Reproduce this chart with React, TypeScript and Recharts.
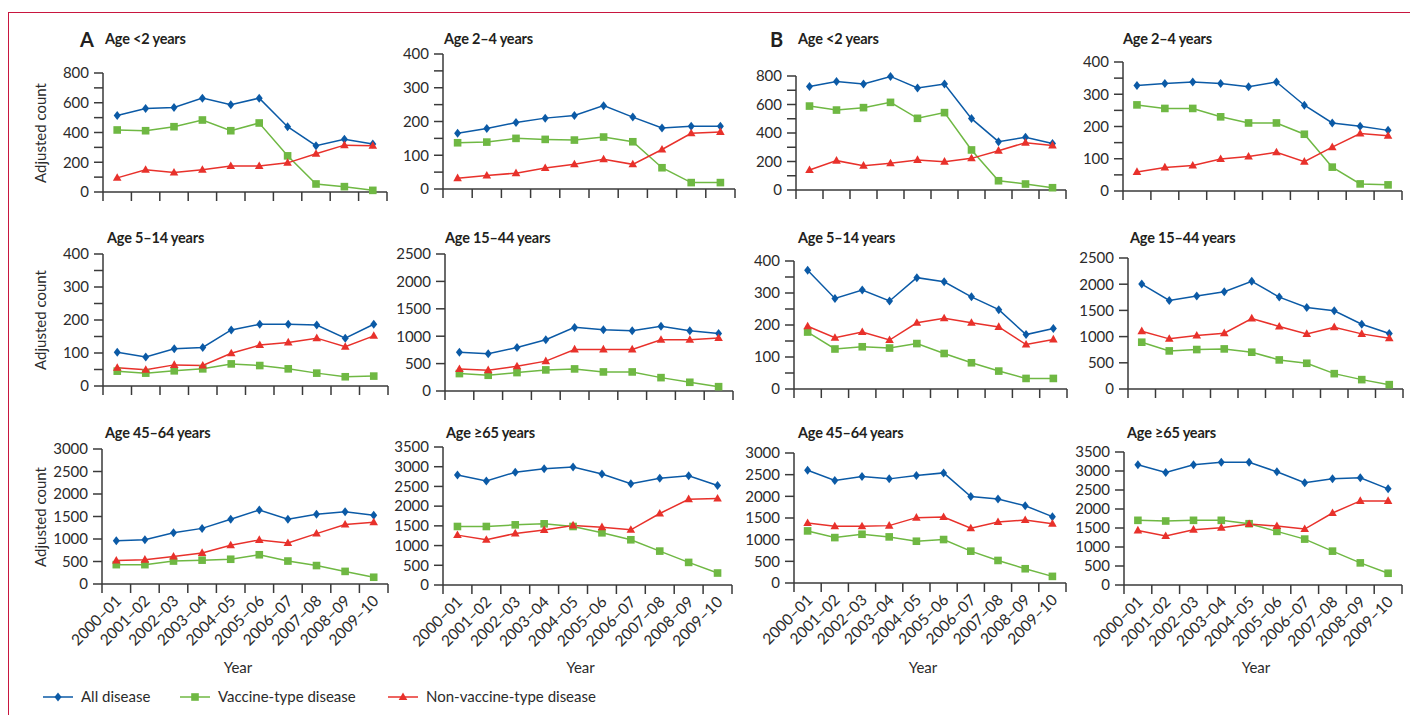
import React from 'react';
import { LineChart, Line, XAxis, YAxis } from 'recharts';

// ── Adjusted counts by season, age group; A and B panels

const YEARS = ['2000–01', '2001–02', '2002–03', '2003–04', '2004–05', '2005–06', '2006–07', '2007–08', '2008–09', '2009–10'];

// Panel A
const A_U2_ALL = [514, 561, 568, 631, 586, 631, 439, 311, 354, 322];
const A_U2_VT = [417, 412, 439, 484, 412, 464, 243, 54, 36, 11];
const A_U2_NVT = [95, 149, 131, 149, 174, 174, 196, 257, 315, 311];

const A_2_4_ALL = [165, 179, 197, 210, 218, 247, 213, 181, 186, 186];
const A_2_4_VT = [137, 139, 150, 147, 145, 154, 140, 63, 19, 19];
const A_2_4_NVT = [32, 40, 47, 62, 73, 88, 73, 117, 165, 169];

const A_5_14_ALL = [102, 88, 113, 117, 170, 187, 187, 185, 145, 187];
const A_5_14_VT = [45, 39, 46, 52, 67, 62, 52, 39, 28, 30];
const A_5_14_NVT = [55, 49, 64, 62, 99, 124, 132, 145, 119, 152];

const A_15_44_ALL = [709, 678, 795, 935, 1161, 1119, 1100, 1180, 1100, 1051];
const A_15_44_VT = [318, 287, 336, 385, 403, 348, 348, 244, 159, 79];
const A_15_44_NVT = [400, 380, 450, 545, 758, 758, 758, 935, 935, 965];

const A_45_64_ALL = [960, 983, 1139, 1236, 1437, 1645, 1437, 1548, 1608, 1526];
const A_45_64_VT = [430, 430, 510, 530, 550, 650, 510, 410, 280, 150];
const A_45_64_NVT = [520, 540, 610, 690, 860, 980, 910, 1120, 1320, 1370];

const A_65_ALL = [2790, 2640, 2860, 2950, 2990, 2815, 2570, 2705, 2770, 2525];
const A_65_VT = [1484, 1484, 1526, 1552, 1484, 1324, 1147, 860, 573, 304];
const A_65_NVT = [1265, 1147, 1307, 1392, 1510, 1467, 1400, 1813, 2176, 2193];

// Panel B
const B_U2_ALL = [727, 762, 744, 797, 716, 744, 501, 339, 370, 327];
const B_U2_VT = [589, 561, 578, 615, 503, 543, 281, 65, 42, 16];
const B_U2_NVT = [140, 206, 171, 187, 211, 199, 222, 276, 332, 313];

const B_2_4_ALL = [327, 333, 338, 333, 323, 338, 266, 211, 201, 188];
const B_2_4_VT = [267, 256, 256, 230, 211, 211, 176, 74, 22, 19];
const B_2_4_NVT = [59, 73, 79, 99, 107, 120, 91, 136, 178, 171];

const B_5_14_ALL = [371, 283, 309, 275, 348, 335, 288, 248, 170, 189];
const B_5_14_VT = [178, 125, 132, 128, 142, 111, 82, 56, 33, 33];
const B_5_14_NVT = [196, 160, 178, 153, 207, 221, 207, 194, 139, 155];

const B_15_44_ALL = [2002, 1690, 1773, 1856, 2054, 1754, 1556, 1492, 1237, 1059];
const B_15_44_VT = [893, 727, 753, 765, 702, 555, 491, 293, 179, 83];
const B_15_44_NVT = [1103, 957, 1020, 1065, 1346, 1193, 1052, 1180, 1052, 969];

const B_45_64_ALL = [2602, 2365, 2457, 2403, 2480, 2541, 1997, 1936, 1783, 1531];
const B_45_64_VT = [1202, 1048, 1125, 1064, 964, 1003, 735, 520, 329, 153];
const B_45_64_NVT = [1385, 1309, 1309, 1324, 1508, 1523, 1263, 1408, 1454, 1370];

const B_65_ALL = [3165, 2962, 3165, 3227, 3227, 2980, 2689, 2795, 2821, 2530];
const B_65_VT = [1702, 1684, 1702, 1702, 1613, 1411, 1208, 891, 582, 309];
const B_65_NVT = [1437, 1287, 1455, 1508, 1605, 1552, 1472, 1895, 2213, 2213];

// y ticks
const TICKS_400 = [0, 50, 100, 150, 200, 250, 300, 350, 400];
const TICKS_800 = [0, 100, 200, 300, 400, 500, 600, 700, 800];
const TICKS_2500 = [0, 500, 1000, 1500, 2000, 2500];
const TICKS_3000 = [0, 500, 1000, 1500, 2000, 2500, 3000];
const TICKS_3500 = [0, 500, 1000, 1500, 2000, 2500, 3000, 3500];

const BLUE = '#0b5aa6';
const GREEN = '#6fb843';
const RED = '#e8312b';
const INK = '#2b2b2b';
const AXIS = '#3a3a3a';
const FRAME = '#c8163f';
const FONT = 'Lato, "Open Sans", sans-serif';

const build = (all: number[], vt: number[], nvt: number[]) =>
  YEARS.map((year, i) => ({ year, all: all[i], vt: vt[i], nvt: nvt[i] }));

// layout: L/R = x-axis ends, T/B = y of top tick and zero
const PANELS = [
  { title: 'Age <2 years', yLabel: true, data: build(A_U2_ALL, A_U2_VT, A_U2_NVT), ticks: TICKS_800, major: 200, L: 103, R: 387, T: 73, B: 192, tx: 105, ty: 39 },
  { title: 'Age 2–4 years', data: build(A_2_4_ALL, A_2_4_VT, A_2_4_NVT), ticks: TICKS_400, major: 100, L: 443, R: 735, T: 54, B: 189, tx: 444, ty: 39 },
  { title: 'Age <2 years', data: build(B_U2_ALL, B_U2_VT, B_U2_NVT), ticks: TICKS_800, major: 200, L: 796, R: 1066, T: 76, B: 190, tx: 798, ty: 39 },
  { title: 'Age 2–4 years', data: build(B_2_4_ALL, B_2_4_VT, B_2_4_NVT), ticks: TICKS_400, major: 100, L: 1123, R: 1402, T: 62, B: 191, tx: 1123, ty: 39 },

  { title: 'Age 5–14 years', yLabel: true, data: build(A_5_14_ALL, A_5_14_VT, A_5_14_NVT), ticks: TICKS_400, major: 100, L: 103, R: 388, T: 254, B: 386, tx: 107, ty: 238 },
  { title: 'Age 15–44 years', data: build(A_15_44_ALL, A_15_44_VT, A_15_44_NVT), ticks: TICKS_2500, major: 500, L: 445, R: 733, T: 254, B: 391, tx: 445, ty: 238 },
  { title: 'Age 5–14 years', data: build(B_5_14_ALL, B_5_14_VT, B_5_14_NVT), ticks: TICKS_400, major: 100, L: 794, R: 1067, T: 261, B: 389, tx: 798, ty: 238 },
  { title: 'Age 15–44 years', data: build(B_15_44_ALL, B_15_44_VT, B_15_44_NVT), ticks: TICKS_2500, major: 500, L: 1128, R: 1403, T: 258, B: 389, tx: 1130, ty: 238 },

  { title: 'Age 45–64 years', yLabel: true, xLabels: true, data: build(A_45_64_ALL, A_45_64_VT, A_45_64_NVT), ticks: TICKS_3000, major: 500, L: 102, R: 388, T: 449, B: 584, tx: 105, ty: 433 },
  { title: 'Age ≥65 years', xLabels: true, data: build(A_65_ALL, A_65_VT, A_65_NVT), ticks: TICKS_3500, major: 500, L: 443, R: 732, T: 447, B: 585, tx: 446, ty: 433 },
  { title: 'Age 45–64 years', xLabels: true, data: build(B_45_64_ALL, B_45_64_VT, B_45_64_NVT), ticks: TICKS_3000, major: 500, L: 794, R: 1066, T: 453, B: 583, tx: 798, ty: 433 },
  { title: 'Age ≥65 years', xLabels: true, data: build(B_65_ALL, B_65_VT, B_65_NVT), ticks: TICKS_3500, major: 500, L: 1124, R: 1402, T: 452, B: 585, tx: 1127, ty: 433 },
];

// markers
const Diamond = ({ cx, cy }: any) => (
  <path d={`M${cx},${cy - 4.5}L${cx + 3.5},${cy}L${cx},${cy + 4.5}L${cx - 3.5},${cy}Z`} fill={BLUE} />
);
const Square = ({ cx, cy }: any) => <rect x={cx - 3.8} y={cy - 3.8} width={7.6} height={7.6} fill={GREEN} />;
const Triangle = ({ cx, cy }: any) => (
  <path d={`M${cx},${cy - 4.6}L${cx + 4.3},${cy + 3}L${cx - 4.3},${cy + 3}Z`} fill={RED} />
);

// x ticks sit on band edges, labels on band centres
const makeXTick = (showLabel: boolean, bandHalf: number) => (props: any) => {
  const { x, y, payload, index, visibleTicksCount } = props;
  const half = payload && payload.offset ? payload.offset : bandHalf;
  const lx = x + 6;
  const ly = y + 18;
  return (
    <g>
      <line x1={x - half} x2={x - half} y1={y} y2={y + 9} stroke={AXIS} strokeWidth={1.5} />
      {index === visibleTicksCount - 1 && (
        <line x1={x + half} x2={x + half} y1={y} y2={y + 9} stroke={AXIS} strokeWidth={1.5} />
      )}
      {showLabel && (
        <text x={lx} y={ly} textAnchor="end" fill={INK} fontSize={15.5} fontFamily={FONT} transform={`rotate(-45 ${lx} ${ly})`}>
          {payload.value}
        </text>
      )}
    </g>
  );
};

function Panel({ p }: { p: any }) {
  const YW = 60;
  const TOP = 10;
  const XH = p.xLabels ? 66 : 14;
  const width = p.R - p.L + YW + 6;
  const height = p.B - p.T + TOP + XH;
  return (
    <div style={{ position: 'absolute', left: p.L - YW, top: p.T - TOP }}>
      <LineChart width={width} height={height} data={p.data} margin={{ top: TOP, right: 6, bottom: 0, left: 0 }}>
        <XAxis
          dataKey="year"
          scale="band"
          interval={0}
          height={XH}
          axisLine={{ stroke: AXIS, strokeWidth: 1.5 }}
          tickLine={false}
          tickSize={0}
          tickMargin={0}
          tick={makeXTick(!!p.xLabels, (p.R - p.L) / 20)}
        />
        <YAxis
          width={YW}
          domain={[0, p.ticks[p.ticks.length - 1]]}
          ticks={p.ticks}
          interval={0}
          axisLine={{ stroke: AXIS, strokeWidth: 1.5 }}
          tickLine={{ stroke: AXIS, strokeWidth: 1.5 }}
          tickSize={9}
          tickMargin={5}
          tick={{ fill: INK, fontSize: 15, fontFamily: FONT }}
          tickFormatter={(v: number) => (v % p.major === 0 ? String(v) : '')}
        />
        <Line type="linear" dataKey="all" stroke={BLUE} strokeWidth={1.5} isAnimationActive={false} activeDot={false}
          dot={(d: any) => <Diamond key={`a${d.index}`} cx={d.cx} cy={d.cy} />} />
        <Line type="linear" dataKey="vt" stroke={GREEN} strokeWidth={1.5} isAnimationActive={false} activeDot={false}
          dot={(d: any) => <Square key={`v${d.index}`} cx={d.cx} cy={d.cy} />} />
        <Line type="linear" dataKey="nvt" stroke={RED} strokeWidth={1.5} isAnimationActive={false} activeDot={false}
          dot={(d: any) => <Triangle key={`n${d.index}`} cx={d.cx} cy={d.cy} />} />
      </LineChart>
    </div>
  );
}

const LEGEND = [
  { name: 'All disease', color: BLUE, Marker: Diamond, x: 43 },
  { name: 'Vaccine-type disease', color: GREEN, Marker: Square, x: 180 },
  { name: 'Non-vaccine-type disease', color: RED, Marker: Triangle, x: 388 },
];

export default function App() {
  return (
    <div style={{ position: 'absolute', left: 0, top: 0, width: 1410, height: 715, background: '#fff', fontFamily: FONT, color: INK, overflow: 'hidden' }}>
      {/* frame */}
      <div style={{ position: 'absolute', left: 8, top: 12, width: 1402, height: 710, borderTop: `1.5px solid ${FRAME}`, borderLeft: `1.5px solid ${FRAME}` }} />

      {PANELS.map((p, i) => (
        <Panel key={i} p={p} />
      ))}

      {PANELS.map((p, i) => (
        <div key={`t${i}`} style={{ position: 'absolute', left: p.tx, top: p.ty - 9, fontSize: 14.5, fontWeight: 700, lineHeight: '18px', whiteSpace: 'nowrap', letterSpacing: '-0.2px', color: '#231f20' }}>
          {p.title}
        </div>
      ))}

      <div style={{ position: 'absolute', left: 80, top: 27, fontSize: 20, fontWeight: 700, lineHeight: '24px', color: '#231f20' }}>A</div>
      <div style={{ position: 'absolute', left: 770, top: 27, fontSize: 20, fontWeight: 700, lineHeight: '24px', color: '#231f20' }}>B</div>

      {/* y-axis titles */}
      {PANELS.filter((p) => p.yLabel).map((p, i) => (
        <div key={`y${i}`} style={{ position: 'absolute', left: 40, top: (p.T + p.B) / 2, transform: 'translate(-50%, -50%) rotate(-90deg)', fontSize: 15, whiteSpace: 'nowrap', lineHeight: '18px' }}>
          Adjusted count
        </div>
      ))}

      {/* x-axis titles */}
      {PANELS.filter((p) => p.xLabels).map((p, i) => (
        <div key={`x${i}`} style={{ position: 'absolute', left: (p.L + p.R) / 2 - 7, top: 667, transform: 'translate(-50%, -50%)', fontSize: 15, lineHeight: '18px' }}>
          Year
        </div>
      ))}

      {/* legend */}
      <svg style={{ position: 'absolute', left: 0, top: 685 }} width={700} height={24}>
        {LEGEND.map(({ name, color, Marker, x }) => (
          <g key={name}>
            <line x1={x} x2={x + 30} y1={12} y2={12} stroke={color} strokeWidth={1.5} />
            <Marker cx={x + 15} cy={12} />
            <text x={x + 38} y={17} fontSize={15} fontFamily={FONT} fill={INK}>{name}</text>
          </g>
        ))}
      </svg>
    </div>
  );
}
